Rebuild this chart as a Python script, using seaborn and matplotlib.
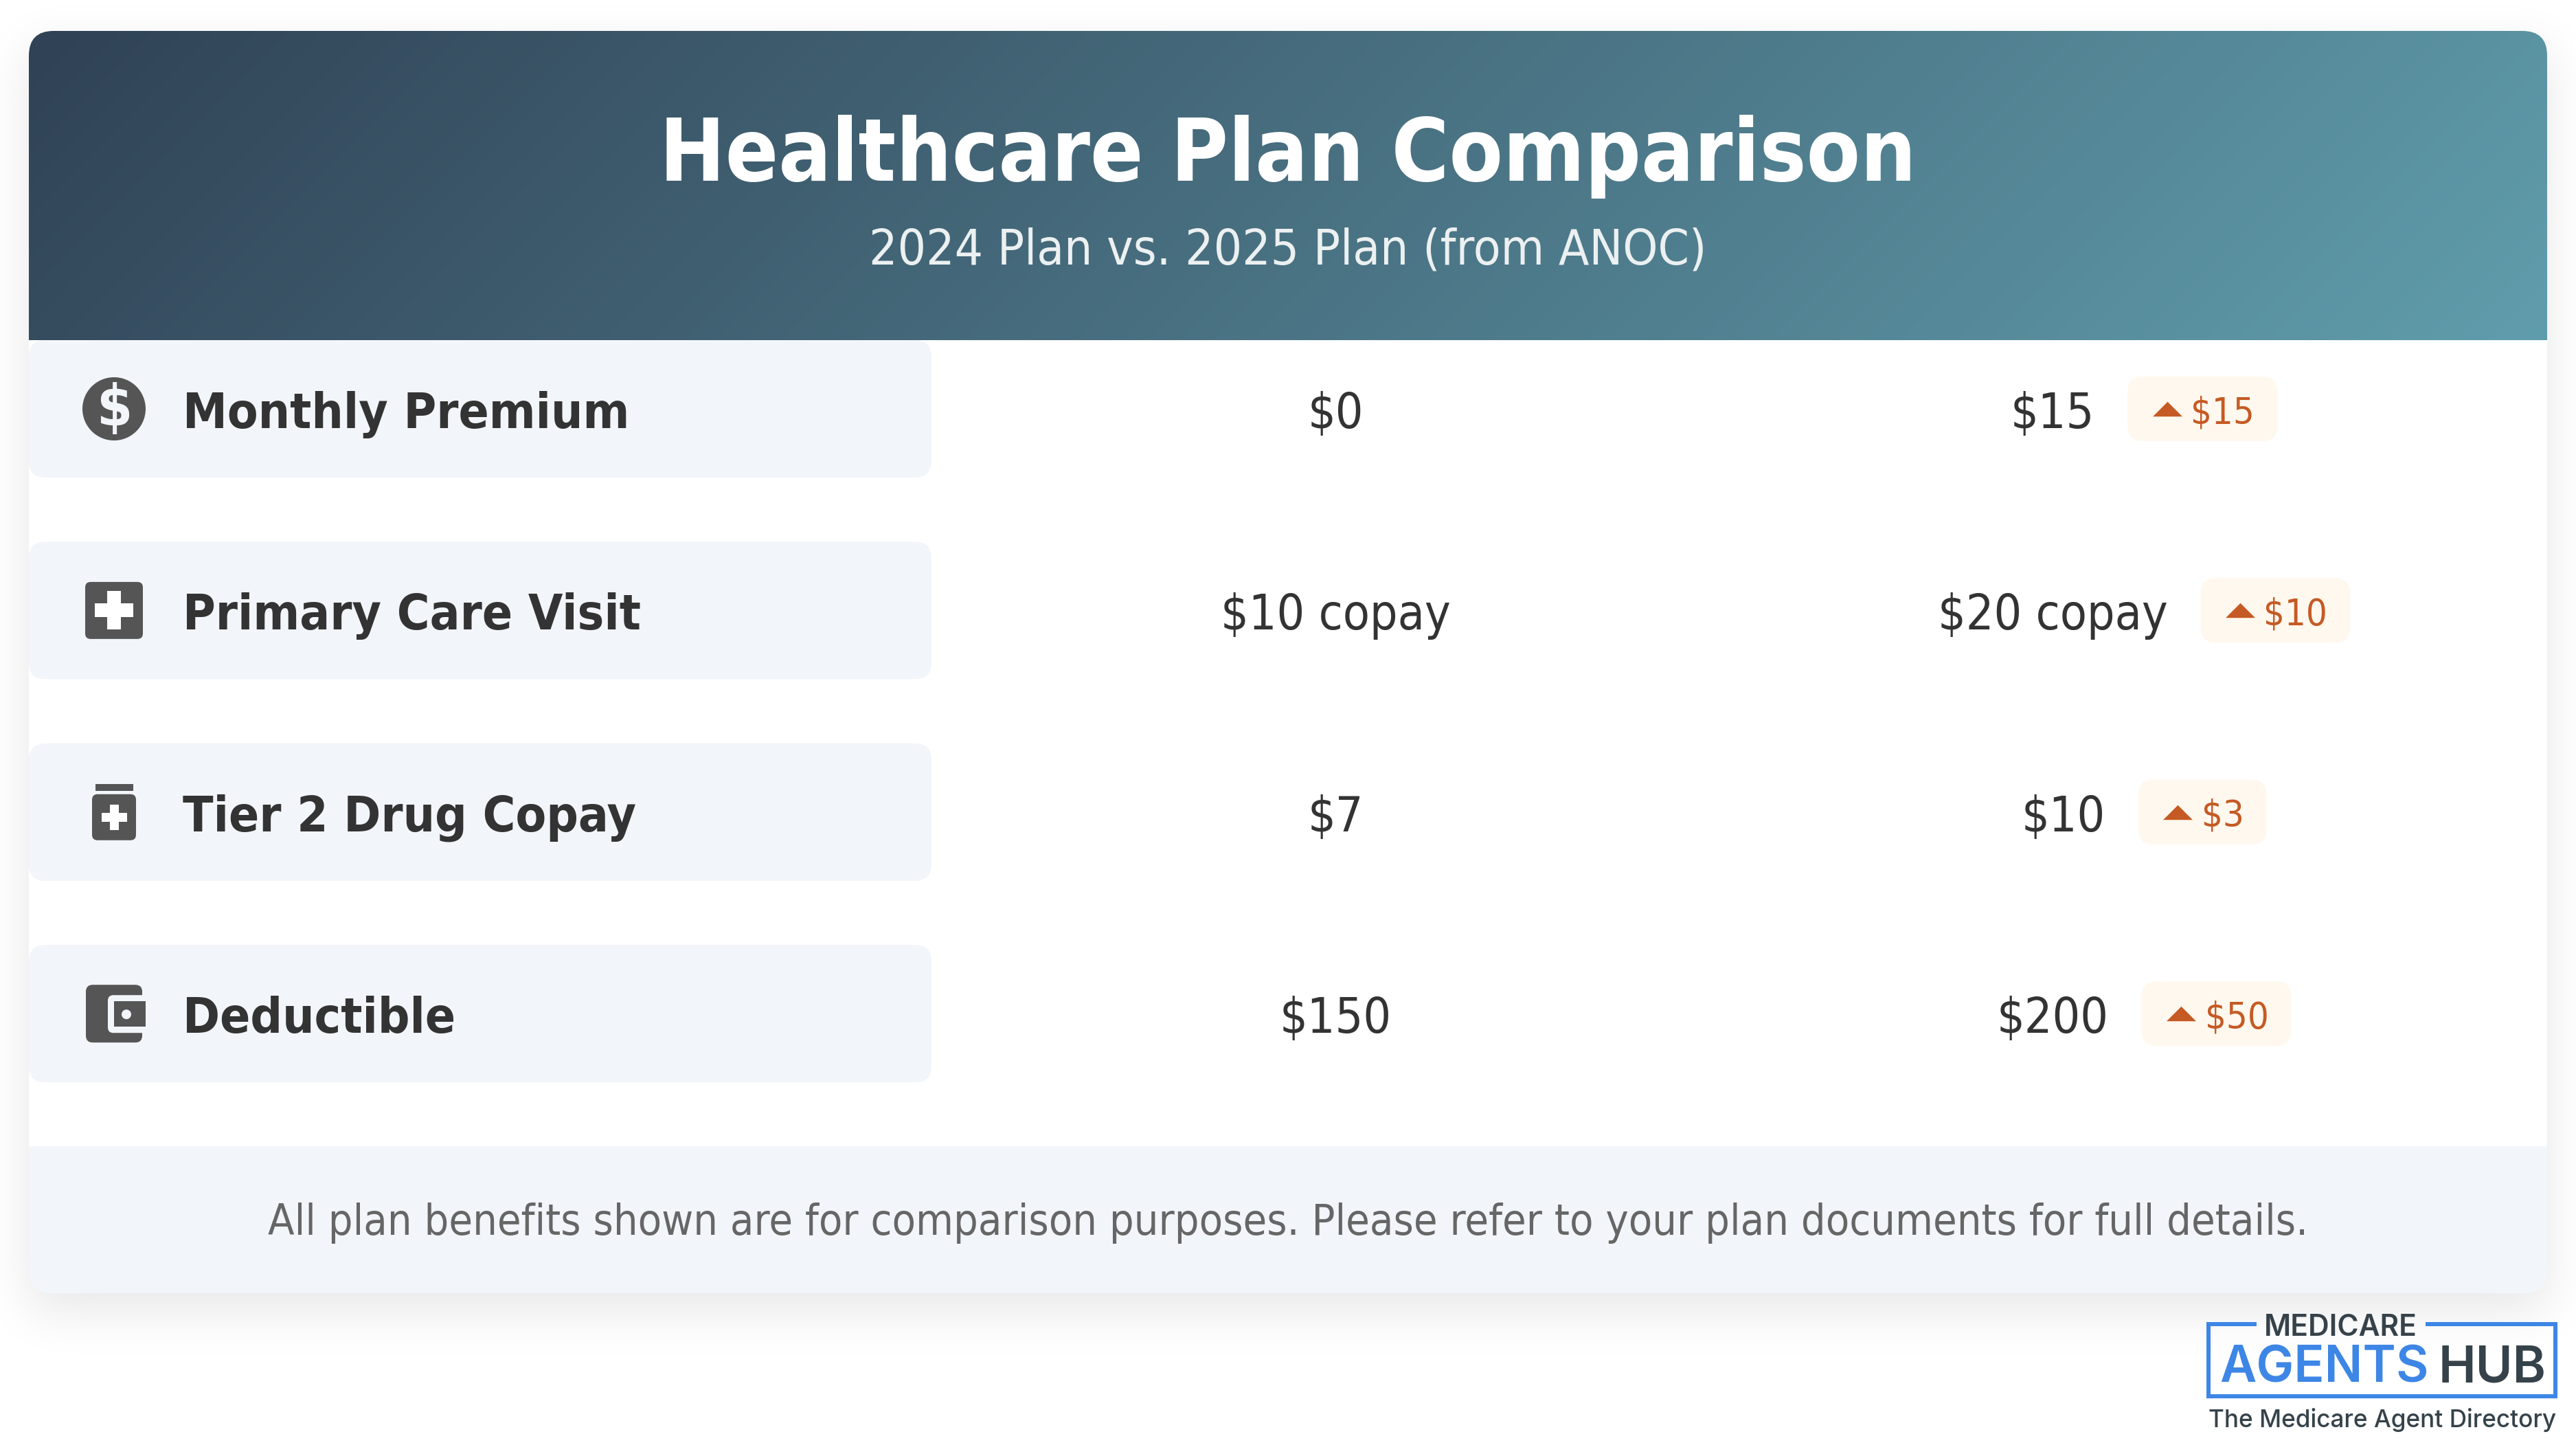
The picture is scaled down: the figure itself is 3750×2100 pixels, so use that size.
import math

import numpy as np
import pandas as pd
import matplotlib.pyplot as plt
import seaborn as sns
from matplotlib.colors import to_rgb
from matplotlib.markers import MarkerStyle
from matplotlib.patches import Circle, FancyBboxPatch, Rectangle

# chart values
benefits = ["Monthly Premium", "Primary Care Visit", "Tier 2 Drug Copay", "Deductible"]
plan_2024 = ["$0", "$10 copay", "$7", "$150"]
plan_2025 = ["$15", "$20 copay", "$10", "$200"]
changes = ["$15", "$10", "$3", "$50"]

title = "Healthcare Plan Comparison"
subtitle = "2024 Plan vs. 2025 Plan (from ANOC)"
footnote = "All plan benefits shown are for comparison purposes. Please refer to your plan documents for full details."

# layout in image pixels
W, H = 3750, 2100
DPI = 300
PT = 72 / DPI
CARD = (42, 45, 3708, 1882)
HEADER_BOTTOM = 495
FOOTER_TOP = 1668
ROW_TOP = 495
ROW_PITCH = 293.4
ROW_H = 200
FONT = "DejaVu Sans"

DARK = "#333333"
ICON = "#555555"
PALE = "#f2f5fa"
BADGE = "#fff8ee"
UP = "#c55a24"
LOGO_BLUE = "#3d86e6"
LOGO_DARK = "#36424a"

sns.set_theme(style="white")
plt.rcParams["font.family"] = [FONT]

fig = plt.figure(figsize=(W / DPI, H / DPI), dpi=DPI, facecolor="white")
ax = fig.add_axes([0, 0, 1, 1])
ax.axis("off")


def round_box(x0, y0, x1, y1, r, color, z):
    box = FancyBboxPatch((x0, y0), x1 - x0, y1 - y0, boxstyle=f"round,pad=0,rounding_size={r}",
                         facecolor=color, edgecolor="none", linewidth=0, zorder=z)
    ax.add_patch(box)
    return box


def label(x, y, s, size, color=DARK, weight="normal", ha="center", family=FONT, stretch="condensed"):
    return ax.text(x, y, s, fontsize=size, color=color, fontweight=weight, fontstretch=stretch, ha=ha,
                   va="baseline", family=[family], zorder=7)


# ── soft card shadow ──────────────────────────────────────
def edge_profile(n, lo, hi, sigma):
    return np.array([0.5 * (math.erf((i - lo) / (sigma * 2**0.5)) - math.erf((i - hi) / (sigma * 2**0.5)))
                     for i in range(n)])


shadow = np.zeros((H, W, 4))
shadow[..., 3] = 0.10 * np.outer(edge_profile(H, CARD[1] + 24, CARD[3] + 24, 36),
                                 edge_profile(W, CARD[0], CARD[2], 36))
ax.imshow(shadow, extent=(0, W, H, 0), aspect="auto", zorder=0)

# ── card, header gradient, footer ─────────────────────────
card = round_box(*CARD, 36, "white", 1)

gx = np.arange(CARD[0], CARD[2])
gy = np.arange(CARD[1], HEADER_BOTTOM)
xx, yy = np.meshgrid(gx, gy)
t = ((xx - gx.mean()) + (yy - gy.mean())) / (len(gx) + len(gy)) + 0.5
start, end = np.array(to_rgb("#304255")), np.array(to_rgb("#609dac"))
grad = start + t[..., None] * (end - start)
header = ax.imshow(grad, extent=(CARD[0], CARD[2], HEADER_BOTTOM, CARD[1]), aspect="auto", zorder=2)
header.set_clip_path(card)

footer = Rectangle((CARD[0], FOOTER_TOP), CARD[2] - CARD[0], CARD[3] - FOOTER_TOP,
                   facecolor=PALE, edgecolor="none", zorder=2)
ax.add_patch(footer)
footer.set_clip_path(card)

label(1875, 263, title, 30.5, "white", "bold")
label(1875, 385, subtitle, 17.4, "#ecf0f1")
label(1875, 1797, footnote, 15.05, "#666666")


# ── icons ─────────────────────────────────────────────────
def cross(cx, cy, span, thick, color):
    ax.add_patch(Rectangle((cx - span / 2, cy - thick / 2), span, thick, facecolor=color, edgecolor="none", zorder=5))
    ax.add_patch(Rectangle((cx - thick / 2, cy - span / 2), thick, span, facecolor=color, edgecolor="none", zorder=5))


def icon_dollar(cy):
    ax.add_patch(Circle((166, cy), 46, facecolor=ICON, edgecolor="none", zorder=4))
    ax.text(166, cy + 1, "$", fontsize=20, color=PALE, fontweight="bold", fontstretch="condensed", ha="center",
            va="center", family=[FONT], zorder=5)


def icon_medical(cy):
    round_box(124, cy - 41.5, 208, cy + 41.5, 8, ICON, 4)
    cross(166, cy, 56, 20, "white")


def icon_bottle(cy):
    ax.add_patch(Rectangle((139, cy - 41), 55, 10, facecolor=ICON, edgecolor="none", zorder=4))
    round_box(134, cy - 26, 198, cy + 41, 8, ICON, 4)
    cross(166, cy + 8, 37, 13, "white")


def icon_wallet(cy):
    round_box(125, cy - 42, 207, cy + 42, 10, ICON, 4)
    round_box(157, cy - 27, 230, cy + 28, 8, PALE, 4.5)
    ax.add_patch(Rectangle((166, cy - 18), 46, 37, facecolor=ICON, edgecolor="none", zorder=5))
    ax.add_patch(Circle((184, cy + 1), 7, facecolor=PALE, edgecolor="none", zorder=6))


icons = [icon_dollar, icon_medical, icon_bottle, icon_wallet]

# ── rows ──────────────────────────────────────────────────
renderer = fig.canvas.get_renderer()
caret_x, caret_y = [], []
for i, name in enumerate(benefits):
    top = ROW_TOP + i * ROW_PITCH
    mid = top + ROW_H / 2
    round_box(CARD[0], top, 1356, top + ROW_H, 24, PALE, 3)
    icons[i](mid)
    label(266, mid + 28, name, 17.4, DARK, "bold", ha="left")
    label(1944, mid + 28, plan_2024[i], 17.1)

    # 2025 cell is value + gap + badge, centred as a group
    value = label(0, mid + 28, plan_2025[i], 17.1, ha="left")
    delta = label(0, mid + 21, changes[i], 13.0, UP, ha="left")
    value_w = value.get_window_extent(renderer).width
    delta_w = delta.get_window_extent(renderer).width
    badge_w = 36 + 43 + 13 + delta_w + 33
    left = 3121 - (value_w + 48 + badge_w) / 2
    value.set_x(left)
    badge_x = left + value_w + 48
    round_box(badge_x, mid - 47, badge_x + badge_w, mid + 47, 22, BADGE, 4)
    caret_x.append(badge_x + 36 + 21.5)
    caret_y.append(mid)
    delta.set_x(badge_x + 36 + 43 + 13)

carets = pd.DataFrame({"x": caret_x, "y": caret_y})
sns.scatterplot(data=carets, x="x", y="y", ax=ax, legend=False, color=UP, linewidth=0, s=106, zorder=6,
                marker=MarkerStyle([(-1, -0.5), (0, 0.5), (1, -0.5), (-1, -0.5)]))

# ── logo ──────────────────────────────────────────────────
ax.plot([3285, 3215, 3215, 3720, 3720, 3531], [1927, 1927, 2032, 2032, 1927, 1927], color=LOGO_BLUE,
        linewidth=6 * PT, solid_joinstyle="miter", solid_capstyle="butt", zorder=5)
label(3296, 1944, "MEDICARE", 10.2, LOGO_DARK, "semibold", "left", "Inter", "normal")
label(3231, 2012, "AGENTS", 17.6, LOGO_BLUE, "semibold", "left", "Inter", "normal")
label(3550, 2012, "HUB", 17.6, LOGO_DARK, "semibold", "left", "Inter", "normal")
label(3215, 2077, "The Medicare Agent Directory", 8.45, LOGO_DARK, "medium", "left", "Inter", "normal")

ax.set_xlim(0, W)
ax.set_ylim(H, 0)
ax.axis("off")
fig.savefig("out.png", dpi=DPI, facecolor="white")
